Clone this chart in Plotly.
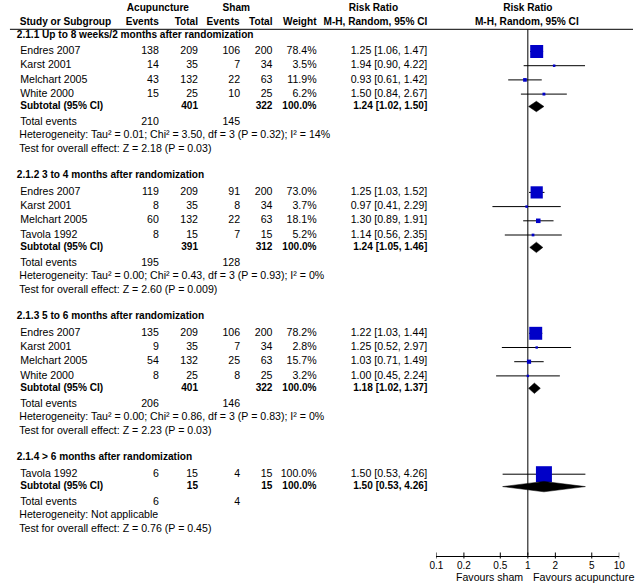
import plotly.graph_objects as go

# ---------------- data ----------------
group_titles = [
    "2.1.1 Up to 8 weeks/2 months after randomization",
    "2.1.2 3 to 4 months after randomization",
    "2.1.3 5 to 6 months after randomization",
    "2.1.4 > 6 months after randomization",
]
study_group = [0, 0, 0, 0, 1, 1, 1, 1, 2, 2, 2, 2, 3]
study_names = ["Endres 2007", "Karst 2001", "Melchart 2005", "White 2000",
               "Endres 2007", "Karst 2001", "Melchart 2005", "Tavola 1992",
               "Endres 2007", "Karst 2001", "Melchart 2005", "White 2000",
               "Tavola 1992"]
acu_events = [138, 14, 43, 15, 119, 8, 60, 8, 135, 9, 54, 8, 6]
acu_total = [209, 35, 132, 25, 209, 35, 132, 15, 209, 35, 132, 25, 15]
sham_events = [106, 7, 22, 10, 91, 8, 22, 7, 106, 7, 25, 8, 4]
sham_total = [200, 34, 63, 25, 200, 34, 63, 15, 200, 34, 63, 25, 15]
weights = [78.4, 3.5, 11.9, 6.2, 73.0, 3.7, 18.1, 5.2, 78.2, 2.8, 15.7, 3.2, 100.0]
rr = [1.25, 1.94, 0.93, 1.50, 1.25, 0.97, 1.30, 1.14, 1.22, 1.25, 1.03, 1.00, 1.50]
rr_lo = [1.06, 0.90, 0.61, 0.84, 1.03, 0.41, 0.89, 0.56, 1.03, 0.52, 0.71, 0.45, 0.53]
rr_hi = [1.47, 4.22, 1.42, 2.67, 1.52, 2.29, 1.91, 2.35, 1.44, 2.97, 1.49, 2.24, 4.26]

sub_acu_total = [401, 391, 401, 15]
sub_sham_total = [322, 312, 322, 15]
sub_weight = [100.0, 100.0, 100.0, 100.0]
sub_rr = [1.24, 1.24, 1.18, 1.50]
sub_lo = [1.02, 1.05, 1.02, 0.53]
sub_hi = [1.50, 1.46, 1.37, 4.26]
tot_acu_events = [210, 195, 206, 6]
tot_sham_events = [145, 128, 146, 4]
het_text = [
    "Heterogeneity: Tau² = 0.01; Chi² = 3.50, df = 3 (P = 0.32); I² = 14%",
    "Heterogeneity: Tau² = 0.00; Chi² = 0.43, df = 3 (P = 0.93); I² = 0%",
    "Heterogeneity: Tau² = 0.00; Chi² = 0.86, df = 3 (P = 0.83); I² = 0%",
    "Heterogeneity: Not applicable",
]
test_text = [
    "Test for overall effect: Z = 2.18 (P = 0.03)",
    "Test for overall effect: Z = 2.60 (P = 0.009)",
    "Test for overall effect: Z = 2.23 (P = 0.03)",
    "Test for overall effect: Z = 0.76 (P = 0.45)",
]
tick_vals = [0.1, 0.2, 0.5, 1, 2, 5, 10]
tick_text = ["0.1", "0.2", "0.5", "1", "2", "5", "10"]
favours_left = "Favours sham"
favours_right = "Favours acupuncture"

# ---------------- layout constants ----------------
W, H = 639, 587
FONT = "Liberation Sans, Arial, sans-serif"
FS = 10.6      # regular text
FSB = 10.1     # bold text
BLUE = "#0000C8"

X_NAME, X_HEAD = 13.5, 10
X_AE, X_AT, X_SE, X_ST, X_W, X_RR = 155, 195, 238, 271, 316, 429
FOREST_L, FOREST_R = 438.3, 625.0
Y_HDR1, Y_HDR2, Y_RULE = 8, 22.6, 29.3
Y_AXIS = 555.5

# row positions
n = len(study_names)
head_y, sub_y, tot_y, het_y, test_y = [], [], [], [], []
study_y = [0.0] * n
y = 35.0
for g in range(len(group_titles)):
    head_y.append(y)
    y += 16.5
    idx = [i for i in range(n) if study_group[i] == g]
    for k, i in enumerate(idx):
        if k > 0:
            y += 14.2
        study_y[i] = y
    y += 12.4; sub_y.append(y)
    y += 15.6; tot_y.append(y)
    y += 13.4; het_y.append(y)
    y += 13.6; test_y.append(y)
    y += 26.8

fig = go.Figure()


def add_text(xs, ys, texts, pos, bold=False, xaxis="x", size=None):
    if size is None:
        size = FSB if bold else FS
    fig.add_trace(go.Scatter(
        x=xs, y=ys, text=texts, mode="text", textposition=pos,
        textfont=dict(family=FONT, size=size, color="black",
                      weight="bold" if bold else "normal"),
        hoverinfo="skip", showlegend=False, cliponaxis=False,
        xaxis=xaxis, yaxis="y"))


def fmt_rr(a, b, c):
    return f"{a:.2f} [{b:.2f}, {c:.2f}]"


# header
forest_c = (FOREST_L + FOREST_R) / 2
add_text([154, 234, 374, forest_c], [Y_HDR1] * 4,
         ["Acupuncture", "Sham", "Risk Ratio", "Risk Ratio"], "middle center", bold=True)
add_text([X_NAME - 0.5], [Y_HDR2], ["Study or Subgroup"], "middle right", bold=True)
add_text([X_AE, X_AT, X_SE - 0.5, X_ST, X_W, X_RR], [Y_HDR2] * 6,
         ["Events", "Total", "Events", "Total", "Weight", "M-H, Random, 95% CI"],
         "middle left", bold=True)
add_text([forest_c - 1], [Y_HDR2], ["M-H, Random, 95% CI"], "middle center", bold=True)

# group headings
add_text([X_HEAD] * len(group_titles), head_y, group_titles, "middle right", bold=True)

# study rows
add_text([X_NAME] * n, study_y, study_names, "middle right")
add_text([X_AE] * n, study_y, [str(v) for v in acu_events], "middle left")
add_text([X_AT] * n, study_y, [str(v) for v in acu_total], "middle left")
add_text([X_SE] * n, study_y, [str(v) for v in sham_events], "middle left")
add_text([X_ST] * n, study_y, [str(v) for v in sham_total], "middle left")
add_text([X_W] * n, study_y, [f"{w:.1f}%" for w in weights], "middle left")
add_text([X_RR] * n, study_y, [fmt_rr(a, b, c) for a, b, c in zip(rr, rr_lo, rr_hi)], "middle left")

# subtotal rows
G = len(group_titles)
add_text([X_NAME] * G, sub_y, ["Subtotal (95% CI)"] * G, "middle right", bold=True)
add_text([X_AT] * G, sub_y, [str(v) for v in sub_acu_total], "middle left", bold=True)
add_text([X_ST] * G, sub_y, [str(v) for v in sub_sham_total], "middle left", bold=True)
add_text([X_W] * G, sub_y, [f"{w:.1f}%" for w in sub_weight], "middle left", bold=True)
add_text([X_RR] * G, sub_y, [fmt_rr(a, b, c) for a, b, c in zip(sub_rr, sub_lo, sub_hi)],
         "middle left", bold=True)

# total events, heterogeneity, test
add_text([X_NAME] * G, tot_y, ["Total events"] * G, "middle right")
add_text([X_AE] * G, tot_y, [str(v) for v in tot_acu_events], "middle left")
add_text([X_SE] * G, tot_y, [str(v) for v in tot_sham_events], "middle left")
add_text([X_NAME - 1] * G, het_y, het_text, "middle right")
add_text([X_NAME - 1] * G, test_y, test_text, "middle right")

# ---------------- forest panel ----------------
# line of no effect
fig.add_trace(go.Scatter(x=[1, 1], y=[Y_RULE, Y_AXIS], mode="lines",
                         line=dict(color="black", width=1), hoverinfo="skip",
                         showlegend=False, xaxis="x2", yaxis="y", cliponaxis=False))

# CI lines
cx, cy = [], []
for i in range(n):
    cx += [rr_lo[i], rr_hi[i], None]
    cy += [study_y[i], study_y[i], None]
fig.add_trace(go.Scatter(x=cx, y=cy, mode="lines", line=dict(color="black", width=1),
                         hoverinfo="skip", showlegend=False, xaxis="x2", yaxis="y",
                         cliponaxis=False))

# study squares
fig.add_trace(go.Scatter(x=rr, y=study_y, mode="markers",
                         marker=dict(symbol="square", color=BLUE, opacity=1,
                                     size=[2 + 14 * w / 100 for w in weights],
                                     line=dict(width=0)),
                         hoverinfo="skip", showlegend=False, xaxis="x2", yaxis="y",
                         cliponaxis=False))

# subtotal diamonds
HALF = 5.2
for g in range(G):
    fig.add_trace(go.Scatter(
        x=[sub_lo[g], sub_rr[g], sub_hi[g], sub_rr[g], sub_lo[g]],
        y=[sub_y[g], sub_y[g] - HALF, sub_y[g], sub_y[g] + HALF, sub_y[g]],
        mode="lines", fill="toself", fillcolor="black",
        line=dict(color="black", width=0.5), hoverinfo="skip", showlegend=False,
        xaxis="x2", yaxis="y", cliponaxis=False))

# tick marks crossing the axis
tx, ty = [], []
for t in tick_vals:
    tx += [t, t, None]
    ty += [Y_AXIS - 3, Y_AXIS + 3, None]
fig.add_trace(go.Scatter(x=tx, y=ty, mode="lines", line=dict(color="black", width=1),
                         hoverinfo="skip", showlegend=False, xaxis="x2", yaxis="y",
                         cliponaxis=False))

# favours labels
fig.add_annotation(x=0, y=Y_AXIS + 21.5, xref="x2", yref="y", text=favours_left,
                   showarrow=False, xanchor="right", yanchor="middle", xshift=-5,
                   borderpad=0, borderwidth=0,
                   font=dict(family=FONT, size=FS, color="black"))
fig.add_annotation(x=0, y=Y_AXIS + 21.5, xref="x2", yref="y", text=favours_right,
                   showarrow=False, xanchor="left", yanchor="middle", xshift=5,
                   borderpad=0, borderwidth=0,
                   font=dict(family=FONT, size=FS + 0.2, color="black"))

# header rule
fig.add_shape(type="line", xref="x", yref="y", x0=3, x1=W, y0=Y_RULE, y1=Y_RULE,
              line=dict(color="black", width=1))

fig.update_layout(
    width=W, height=H,
    margin=dict(l=0, r=0, t=0, b=0),
    paper_bgcolor="white", plot_bgcolor="rgba(0,0,0,0)",
    showlegend=False,
    xaxis=dict(range=[0, W], domain=[0, 1], visible=False, fixedrange=True),
    yaxis=dict(range=[H, 0], domain=[0, 1], visible=False, fixedrange=True),
    xaxis2=dict(type="log", range=[-1, 1], domain=[FOREST_L / W, FOREST_R / W],
                anchor="free", position=1 - Y_AXIS / H,
                showline=True, linecolor="black", linewidth=1,
                ticks="", ticklabelstandoff=0,
                tickvals=tick_vals, ticktext=tick_text,
                tickfont=dict(family=FONT, size=10, color="black"),
                showgrid=False, zeroline=False, fixedrange=True),
)

fig.write_html(
    "out.html",
    config={"displayModeBar": False, "staticPlot": True},
    post_script="document.body.style.margin='0';document.body.style.overflow='hidden';",
)
